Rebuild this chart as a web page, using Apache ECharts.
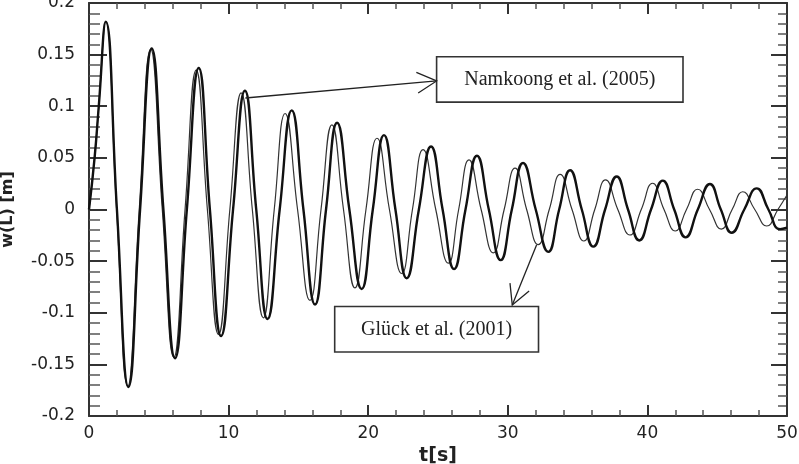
<!DOCTYPE html>
<html><head><meta charset="utf-8">
<script src="https://cdn.jsdelivr.net/npm/echarts@6/dist/echarts.min.js"></script>
<style>html,body{margin:0;padding:0;background:#fff}#c{width:799px;height:464px}</style>
</head><body><div id="c"></div>
<script>
// tick labels
const xTickLabels = ['0','10','20','30','40','50'];
const yTickLabels = ['-0.2','-0.15','-0.1','-0.05','0','0.05','0.1','0.15','0.2'];

// Namkoong et al. (2005) - thick curve
const namkoongT = [0,0.4,0.7,1.2, 2.0,2.82, 3.66,4.49, 5.33,6.16, 7.01,7.86, 8.66,9.46, 10.32,11.17, 11.98,12.79, 13.66,14.52, 15.36,16.19, 16.98,17.77, 18.65,19.53, 20.33,21.13, 21.95,22.76, 23.63,24.5, 25.33,26.15, 26.97,27.79, 28.64,29.49, 30.29,31.09, 32.0,32.9, 33.68,34.46, 35.3,36.13, 36.97,37.8, 38.61,39.42, 40.26,41.1, 41.92,42.74, 43.61,44.48, 45.26,46.04, 46.94,47.83, 48.67,49.5, 50];
const namkoongW = [0,0.05,0.1,0.182, 0,-0.172, 0,0.156, 0,-0.144, 0,0.137, 0,-0.1225, 0,0.115, 0,-0.106, 0,0.096, 0,-0.092, 0,0.084, 0,-0.077, 0,0.072, 0,-0.0666, 0,0.061, 0,-0.0576, 0,0.052, 0,-0.049, 0,0.045, 0,-0.041, 0,0.038, 0,-0.036, 0,0.032, 0,-0.030, 0,0.028, 0,-0.027, 0,0.0247, 0,-0.0225, 0,0.0205, 0,-0.019, -0.0175];

// Glück et al. (2001) - thin curve
const glueckT = [0,0.4,0.7,1.2, 1.98,2.78, 3.6,4.42, 5.25,6.08, 6.88,7.68, 8.48,9.28, 10.09,10.9, 11.7,12.49, 13.27,14.05, 14.94,15.83, 16.62,17.4, 18.23,19.05, 19.84,20.63, 21.52,22.4, 23.17,23.93, 24.84,25.74, 26.48,27.22, 28.09,28.96, 29.74,30.52, 31.35,32.18, 32.97,33.75, 34.6,35.45, 36.23,37.0, 37.88,38.75, 39.56,40.37, 41.19,42.0, 42.8,43.6, 44.45,45.3, 46.07,46.83, 47.69,48.55, 49.35,50];
const glueckW = [0,0.05,0.1,0.182, 0,-0.171, 0,0.155, 0,-0.143, 0,0.135, 0,-0.121, 0,0.113, 0,-0.105, 0,0.093, 0,-0.088, 0,0.082, 0,-0.076, 0,0.069, 0,-0.062, 0,0.058, 0,-0.052, 0,0.048, 0,-0.042, 0,0.040, 0,-0.034, 0,0.034, 0,-0.0305, 0,0.0286, 0,-0.0247, 0,0.0254, 0,-0.0208, 0,0.0196, 0,-0.019, 0,0.0172, 0,-0.016, 0,0.014];

const zip = (a, b) => a.slice(0, Math.min(a.length, b.length)).map((v, i) => [v, b[i]]);

const xLabelFmt = v => { const s = xTickLabels.find(l => Math.abs(parseFloat(l) - v) < 1e-9); return s === undefined ? '' : s; };
const yLabelFmt = v => { const s = yTickLabels.find(l => Math.abs(parseFloat(l) - v) < 1e-9); return s === undefined ? '' : s; };

const axisCol = '#333';
const labelStyle = { color: '#222', fontFamily: 'DejaVu Sans', fontSize: 17 };

function xAx(pos, showLabel) {
  return {
    type: 'value', position: pos, min: 0, max: 50, interval: 10,
    axisLine: { show: true, onZero: false, lineStyle: { color: axisCol, width: 2 } },
    axisTick: { show: true, inside: true, length: 11, lineStyle: { color: axisCol, width: 2 } },
    minorTick: { show: true, splitNumber: 5, length: 6, lineStyle: { color: '#555', width: 1.5 } },
    splitLine: { show: false },
    axisLabel: Object.assign({ show: showLabel, margin: 9, formatter: xLabelFmt, showMinLabel: true, showMaxLabel: true }, labelStyle),
    name: showLabel ? 't[s]' : '', nameLocation: 'middle', nameGap: 22,
    nameTextStyle: { color: '#222', fontFamily: 'DejaVu Sans', fontWeight: 'bold', fontSize: 19 }
  };
}
function yAx(pos, showLabel, tl, ml) {
  return {
    type: 'value', position: pos, min: -0.2, max: 0.2, interval: 0.05,
    axisLine: { show: true, onZero: false, lineStyle: { color: axisCol, width: 2 } },
    axisTick: { show: true, inside: true, length: tl, lineStyle: { color: axisCol, width: 2 } },
    minorTick: { show: true, splitNumber: 5, length: ml, lineStyle: { color: '#555', width: 1.5 } },
    splitLine: { show: false },
    axisLabel: Object.assign({ show: showLabel, margin: 14, formatter: yLabelFmt, showMinLabel: true, showMaxLabel: true }, labelStyle),
    name: showLabel ? 'w(L) [m]' : '', nameLocation: 'middle', nameRotate: 90, nameGap: 73,
    nameTextStyle: { color: '#222', fontFamily: 'DejaVu Sans', fontWeight: 'bold', fontSize: 16 }
  };
}

const chart = echarts.init(document.getElementById('c'), null, { renderer: 'canvas' });
chart.setOption({
  animation: false,
  backgroundColor: '#fff',
  grid: { left: 89, right: 12, top: 3, bottom: 48, containLabel: false, outerBoundsMode: 'none' },
  xAxis: [xAx('bottom', true), xAx('top', false)],
  yAxis: [yAx('left', true, 18, 11), yAx('right', false, 16, 9)],
  series: [
    { type: 'line', name: 'Glück et al. (2001)', data: zip(glueckT, glueckW), smooth: 0.5, showSymbol: false, symbol: 'none',
      lineStyle: { color: '#333', width: 1.2 }, z: 2 },
    { type: 'line', name: 'Namkoong et al. (2005)', data: zip(namkoongT, namkoongW), smooth: 0.5, showSymbol: false, symbol: 'none',
      lineStyle: { color: '#111', width: 2.4 }, z: 3 }
  ]
});

// annotations in data coordinates
const notes = [
  { text: 'Namkoong et al. (2005)', box: [24.9, 0.148, 42.55, 0.104], from: [11.2, 0.108], to: [24.9, 0.1245] },
  { text: 'Glück et al. (2001)', box: [17.6, -0.094, 32.2, -0.138], from: [32.06, -0.0344], to: [30.32, -0.0925] }
];
const px = p => chart.convertToPixel({ xAxisIndex: 0, yAxisIndex: 0 }, p);
const g = [];
notes.forEach(n => {
  const a = px([n.box[0], n.box[1]]), b = px([n.box[2], n.box[3]]);
  g.push({ type: 'rect', shape: { x: a[0], y: a[1], width: b[0] - a[0], height: b[1] - a[1] },
    style: { fill: '#fff', stroke: '#333', lineWidth: 1.6 }, z: 10 });
  g.push({ type: 'text', x: (a[0] + b[0]) / 2, y: (a[1] + b[1]) / 2,
    style: { text: n.text, fill: '#222', font: '20px "Liberation Serif"', align: 'center', verticalAlign: 'middle' }, z: 11 });
  const s = px(n.from), t = px(n.to);
  g.push({ type: 'line', shape: { x1: s[0], y1: s[1], x2: t[0], y2: t[1] }, style: { stroke: '#222', lineWidth: 1.3 }, z: 10 });
  const ang = Math.atan2(s[1] - t[1], s[0] - t[0]), L = 22, h = 28 * Math.PI / 180;
  g.push({ type: 'polyline', shape: { points: [
      [t[0] + L * Math.cos(ang + h), t[1] + L * Math.sin(ang + h)], [t[0], t[1]],
      [t[0] + L * Math.cos(ang - h), t[1] + L * Math.sin(ang - h)]] },
    style: { stroke: '#222', lineWidth: 1.3, fill: null }, z: 10 });
});
chart.setOption({ graphic: g });
</script></body></html>
